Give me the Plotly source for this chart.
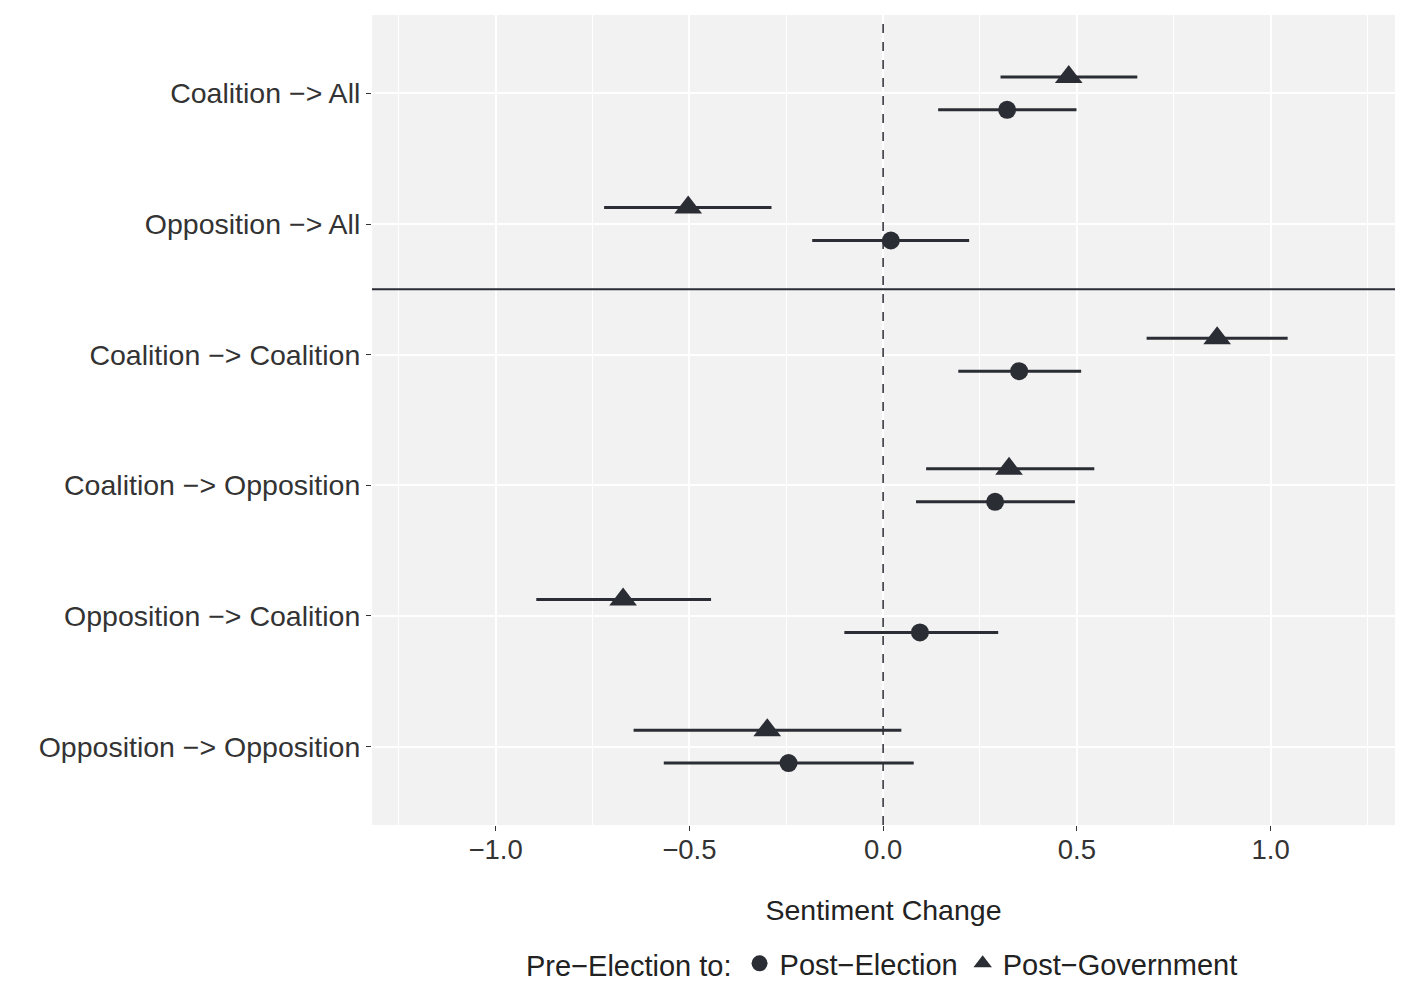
import plotly.graph_objects as go

categories = ["Coalition −> All", "Opposition −> All", "Coalition −> Coalition",
              "Coalition −> Opposition", "Opposition −> Coalition", "Opposition −> Opposition"]
cat_pos = [6, 5, 4, 3, 2, 1]

# Post-Election (circles)
pe_est = [0.320, 0.020, 0.351, 0.289, 0.095, -0.244]
pe_lo = [0.142, -0.183, 0.194, 0.085, -0.100, -0.566]
pe_hi = [0.499, 0.222, 0.511, 0.495, 0.297, 0.079]

# Post-Government (triangles)
pg_est = [0.479, -0.503, 0.862, 0.325, -0.671, -0.299]
pg_lo = [0.303, -0.720, 0.680, 0.111, -0.895, -0.644]
pg_hi = [0.656, -0.288, 1.044, 0.545, -0.444, 0.047]

x_range = [-1.319, 1.321]
y_range = [0.4, 6.6]
ref_x = 0.0          # reference (no change) line
separator_y = 4.5    # between aggregate and dyadic rows

offset = 0.126
dark = "#2b2d35"
txt = "#333333"
font = "Liberation Sans, Arial, sans-serif"

fig = go.Figure()
# reference lines drawn first so markers sit on top
fig.add_trace(go.Scatter(x=[ref_x, ref_x], y=y_range, mode="lines", showlegend=False,
                         hoverinfo="skip", line=dict(color=dark, width=1.5, dash="dash")))
fig.add_trace(go.Scatter(x=x_range, y=[separator_y, separator_y], mode="lines", showlegend=False,
                         hoverinfo="skip", line=dict(color=dark, width=2)))

fig.add_trace(go.Scatter(
    x=pe_est, y=[p - offset for p in cat_pos], mode="markers", name="Post−Election",
    marker=dict(symbol="circle", size=18, color=dark),
    error_x=dict(type="data", symmetric=False,
                 array=[h - e for h, e in zip(pe_hi, pe_est)],
                 arrayminus=[e - l for e, l in zip(pe_est, pe_lo)],
                 width=0, thickness=3, color=dark),
))
fig.add_trace(go.Scatter(
    x=pg_est, y=[p + offset for p in cat_pos], mode="markers", name="Post−Government",
    marker=dict(symbol="triangle-up", size=24, color=dark),
    error_x=dict(type="data", symmetric=False,
                 array=[h - e for h, e in zip(pg_hi, pg_est)],
                 arrayminus=[e - l for e, l in zip(pg_est, pg_lo)],
                 width=0, thickness=3, color=dark),
))

fig.update_layout(
    width=1420, height=1006,
    margin=dict(l=364, r=33, t=7, b=189),
    paper_bgcolor="white", plot_bgcolor="#F2F2F2",
    font=dict(family=font, size=28, color=txt),
    legend=dict(orientation="h", x=0.5, xanchor="center", y=-0.171, yanchor="middle",
                title=dict(text="Pre−Election to:", font=dict(size=29, color="#222222")),
                font=dict(size=29, color="#222222"), itemsizing="trace"),
    showlegend=True,
)
fig.update_xaxes(
    range=x_range, tickvals=[-1.0, -0.5, 0.0, 0.5, 1.0],
    ticktext=["−1.0", "−0.5", "0.0", "0.5", "1.0"],
    showgrid=True, gridcolor="white", gridwidth=2, zeroline=False,
    ticks="outside", ticklen=5, tickcolor=txt, tickwidth=1,
    tickfont=dict(size=27.5, color=txt), ticklabelstandoff=-5,
    minor=dict(tickvals=[-1.25, -0.75, -0.25, 0.25, 0.75, 1.25], showgrid=True,
               gridcolor="white", gridwidth=1, ticks=""),
    title=dict(text="Sentiment Change", font=dict(size=28.5, color="#222222"), standoff=36),
    showline=False,
)
fig.update_yaxes(
    range=y_range, tickvals=cat_pos, ticktext=categories,
    showgrid=True, gridcolor="white", gridwidth=2, zeroline=False,
    ticks="outside", ticklen=5, tickcolor=txt, tickwidth=1,
    tickfont=dict(size=28.5, color=txt), showline=False,
)

fig.write_html("out.html")
